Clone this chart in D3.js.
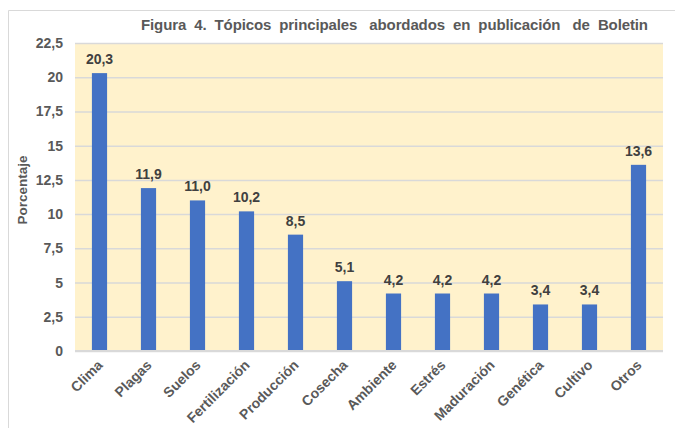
<!DOCTYPE html>
<html><head><meta charset="utf-8">
<script src="https://cdn.jsdelivr.net/npm/d3@7"></script>
<style>body{margin:0;background:#fff}svg{display:block}</style>
</head><body>
<svg id="c" width="675" height="428"></svg>
<script>
const categories = ["Clima","Plagas","Suelos","Fertilización","Producción","Cosecha","Ambiente","Estrés","Maduración","Genética","Cultivo","Otros"];
const values = [20.3, 11.9, 11.0, 10.2, 8.5, 5.1, 4.2, 4.2, 4.2, 3.4, 3.4, 13.6];
const yTicks = [0, 2.5, 5, 7.5, 10, 12.5, 15, 17.5, 20, 22.5];
const title = "Figura  4.  Tópicos  principales   abordados  en  publicación   de  Boletin";
const yTitle = "Porcentaje";

const FONT = "Arial, 'Liberation Sans', sans-serif";
const svg = d3.select("#c");
const fmt = v => String(v).replace(".", ",");
const fmt1 = v => v.toFixed(1).replace(".", ",");
const m = {l:75, r:663, t:43, b:351};

// outer frame
svg.append("path").attr("d","M8.5,428 V10.5 H675").attr("fill","none").attr("stroke","#d9d9d9").attr("stroke-width",1);

const x = d3.scaleBand().domain(categories).range([m.l, m.r]).paddingInner(0.69).paddingOuter(0.345);
const y = d3.scaleLinear().domain([0, 22.5]).range([m.b, m.t]);

svg.append("rect").attr("x", m.l).attr("y", m.t).attr("width", m.r-m.l).attr("height", m.b-m.t).attr("fill","#FFF2CC");

const ga = svg.append("g").attr("transform",`translate(${m.l},0)`)
  .call(d3.axisLeft(y).tickValues(yTicks).tickSize(-(m.r-m.l)).tickPadding(12).tickFormat(fmt));
ga.select(".domain").remove();
ga.selectAll(".tick line").attr("stroke","#d9d9d9").attr("stroke-width",1.5);
ga.selectAll(".tick text").attr("fill","#595959").attr("font-family",FONT).attr("font-size","14px").attr("font-weight","bold");

svg.selectAll("rect.bar").data(values).join("rect").attr("class","bar")
  .attr("x",(d,i)=>x(categories[i])).attr("width",x.bandwidth())
  .attr("y",d=>y(d)).attr("height",d=>y(0)-y(d)).attr("fill","#4472C4");

// baseline
svg.append("line").attr("x1",m.l).attr("x2",m.r).attr("y1",m.b).attr("y2",m.b).attr("stroke","#d9d9d9").attr("stroke-width",2);

svg.selectAll("text.lbl").data(values).join("text").attr("class","lbl")
  .attr("x",(d,i)=>x(categories[i])+x.bandwidth()/2).attr("y",d=>y(d)-9)
  .attr("text-anchor","middle").attr("fill","#404040")
  .attr("font-family",FONT).attr("font-size","14px").attr("font-weight","bold")
  .text(fmt1);

const gx = svg.append("g").attr("transform",`translate(0,${m.b})`)
  .call(d3.axisBottom(x).tickSize(0).tickPadding(0));
gx.select(".domain").remove();
gx.selectAll(".tick text").attr("fill","#595959").attr("font-family",FONT).attr("font-size","14px").attr("font-weight","bold")
  .attr("text-anchor","end").attr("dy",null).attr("y",null)
  .attr("transform","translate(4,15) rotate(-45)");

svg.append("text").attr("transform","translate(27,190) rotate(-90)").attr("text-anchor","middle")
  .attr("fill","#595959").attr("font-family",FONT).attr("font-size","13.5px").attr("font-weight","bold").text(yTitle);

svg.append("text").attr("x",141).attr("y",30).attr("fill","#595959").attr("xml:space","preserve").style("white-space","pre")
  .attr("textLength",507).attr("lengthAdjust","spacing")
  .attr("font-family",FONT).attr("font-size","15px").attr("font-weight","bold").text(title);
</script>
</body></html>
